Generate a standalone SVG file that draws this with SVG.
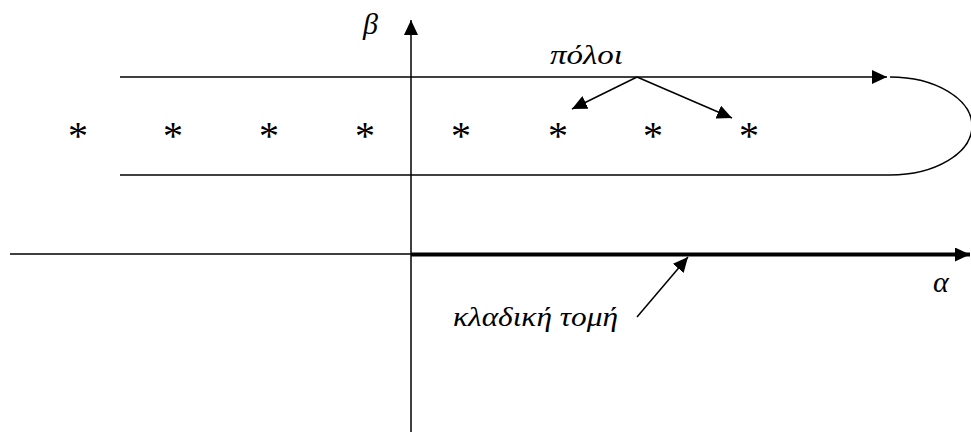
<svg xmlns="http://www.w3.org/2000/svg" width="971" height="432" viewBox="0 0 971 432">
<style>
.ln{stroke:#000;stroke-width:1.5;fill:none}
.lab{font-family:"Liberation Serif","Times New Roman",serif;font-style:italic;font-size:27px;fill:#000}
.big{font-size:30px}
.star{font-family:"Liberation Serif","Times New Roman",serif;font-size:40px;fill:#000;text-anchor:middle}
</style>
<defs>
<marker id="ah" markerWidth="16" markerHeight="14" refX="15" refY="7" orient="auto" markerUnits="userSpaceOnUse">
<path d="M0,0 L15,7 L0,14 Z" fill="#000"/>
</marker>
</defs>
<rect width="971" height="432" fill="#fff"/>
<g id="connectors">
<line class="ln" x1="411" y1="432" x2="411" y2="20" marker-end="url(#ah)"/>
<line class="ln" x1="10" y1="254" x2="411" y2="254"/>
<line x1="411" y1="254.5" x2="970" y2="254.5" stroke="#000" stroke-width="4" marker-end="url(#ah)"/>
<line class="ln" x1="120" y1="77" x2="887" y2="77" marker-end="url(#ah)"/>
<line class="ln" x1="120" y1="175" x2="890" y2="175"/>
<path class="ln" d="M890,77 A82,49 0 0 1 890,175"/>
<line class="ln" x1="637" y1="77" x2="572" y2="109" marker-end="url(#ah)"/>
<line class="ln" x1="637" y1="77" x2="732" y2="118" marker-end="url(#ah)"/>
<line class="ln" x1="637" y1="317" x2="688" y2="257" marker-end="url(#ah)"/>
</g>
<g id="labels">
<text class="lab big" x="363" y="34">β</text>
<text class="lab big" x="933" y="292">α</text>
<text class="lab" x="550" y="64" textLength="73" lengthAdjust="spacingAndGlyphs">πόλοι</text>
<text class="lab" x="453" y="326" textLength="165" lengthAdjust="spacingAndGlyphs">κλαδική τομή</text>
</g>
<g id="poles">
<text class="star" x="78" y="149">*</text>
<text class="star" x="173" y="149">*</text>
<text class="star" x="269" y="149">*</text>
<text class="star" x="365" y="149">*</text>
<text class="star" x="461" y="149">*</text>
<text class="star" x="558" y="149">*</text>
<text class="star" x="653" y="149">*</text>
<text class="star" x="749" y="149">*</text>
</g>
</svg>
